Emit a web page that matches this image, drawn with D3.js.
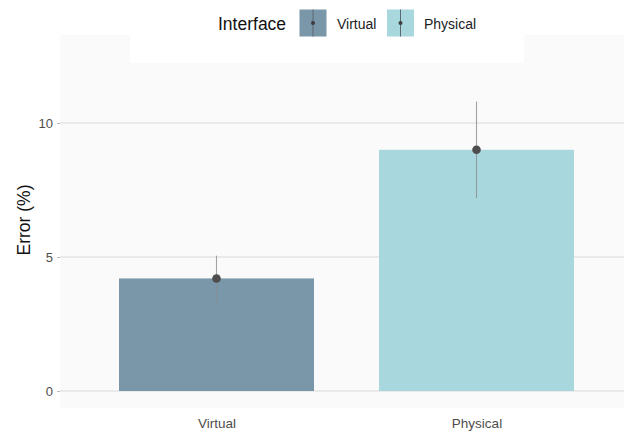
<!DOCTYPE html>
<html>
<head>
<meta charset="utf-8">
<script src="https://cdn.jsdelivr.net/npm/d3@7"></script>
<style>
  html, body { margin: 0; padding: 0; background: #ffffff; }
  svg { display: block; font-family: "Liberation Sans", Arial, sans-serif; }
</style>
</head>
<body>
<svg id="chart" width="624" height="431"></svg>
<script>
// Interface comparison: mean error with error bars
const categories = ["Virtual", "Physical"];
const meanError = [4.2, 9.0];
const errLow = [3.3, 7.2];
const errHigh = [5.05, 10.8];
const yTicks = [0, 5, 10];
const colors = ["#7a96a9", "#a8d8de"];

const svg = d3.select("#chart");
const W = 624, H = 431;

// Panel geometry
const panel = { left: 60, top: 35, right: 633, bottom: 408 };

const y = d3.scaleLinear().domain([0, 5]).range([391, 257]);
const x = d3.scaleLinear().domain([1, 2]).range([216.5, 476.5]);
const barW = (x(2) - x(1)) * 0.75;

// panel background
svg.append("rect")
  .attr("x", panel.left).attr("y", panel.top)
  .attr("width", panel.right - panel.left).attr("height", panel.bottom - panel.top)
  .attr("fill", "#fafafa");

// gridlines
svg.append("g").selectAll("line").data(yTicks).join("line")
  .attr("x1", panel.left).attr("x2", W)
  .attr("y1", d => y(d)).attr("y2", d => y(d))
  .attr("stroke", "#dadada").attr("stroke-width", 1.1);

// y axis (ticks + labels)
const yAxis = d3.axisLeft(y).tickValues(yTicks).tickFormat(d3.format("d")).tickSize(3).tickPadding(4);
const gy = svg.append("g").attr("transform", `translate(${panel.left},0)`).call(yAxis);
gy.select(".domain").remove();
gy.selectAll(".tick line").attr("stroke", "#bbbbbb");
gy.selectAll(".tick text").attr("fill", "#4d4d4d").style("font-size", "13px");

// x axis labels
const xAxis = d3.axisBottom(x).tickValues([1, 2]).tickFormat((d, i) => categories[i]).tickSize(0).tickPadding(10);
const gx = svg.append("g").attr("transform", `translate(0,${panel.bottom})`).call(xAxis);
gx.select(".domain").remove();
gx.selectAll(".tick text").attr("fill", "#4d4d4d").style("font-size", "13.5px");

// bars
svg.append("g").selectAll("rect").data(categories).join("rect")
  .attr("x", (d, i) => x(i + 1) - barW / 2)
  .attr("width", barW)
  .attr("y", (d, i) => y(meanError[i]))
  .attr("height", (d, i) => y(0) - y(meanError[i]))
  .attr("fill", (d, i) => colors[i]);

// error bars
svg.append("g").selectAll("line").data(categories).join("line")
  .attr("x1", (d, i) => x(i + 1)).attr("x2", (d, i) => x(i + 1))
  .attr("y1", (d, i) => y(errLow[i])).attr("y2", (d, i) => y(errHigh[i]))
  .attr("stroke", "#8a8f93").attr("stroke-width", 1.1).attr("opacity", 0.8);

// mean points
svg.append("g").selectAll("circle").data(categories).join("circle")
  .attr("cx", (d, i) => x(i + 1))
  .attr("cy", (d, i) => y(meanError[i]))
  .attr("r", 4.3)
  .attr("fill", "#4d4d4d");

// y axis title
svg.append("text")
  .attr("transform", "translate(30,220) rotate(-90)")
  .attr("text-anchor", "middle")
  .attr("fill", "#111")
  .style("font-size", "17.5px")
  .text("Error (%)");

// legend
const lg = svg.append("g");
lg.append("rect").attr("x", 130).attr("y", 0).attr("width", 394).attr("height", 63).attr("fill", "#ffffff");
lg.append("text").attr("x", 218).attr("y", 30).attr("fill", "#111")
  .style("font-size", "17.5px").text("Interface");
const keyX = [299.5, 387];
const labelX = [337, 424];
categories.forEach((c, i) => {
  const k = lg.append("g").attr("transform", `translate(${keyX[i]},9.5)`);
  k.append("rect").attr("width", 27).attr("height", 27).attr("fill", colors[i]);
  k.append("line").attr("x1", 13.5).attr("x2", 13.5).attr("y1", 0).attr("y2", 27)
    .attr("stroke", "#5a6670").attr("stroke-width", 1);
  k.append("circle").attr("cx", 13.5).attr("cy", 13.5).attr("r", 2).attr("fill", "#3d3d3d");
  lg.append("text").attr("x", labelX[i]).attr("y", 28.5).attr("fill", "#222")
    .style("font-size", "14px").text(c);
});
</script>
</body>
</html>
